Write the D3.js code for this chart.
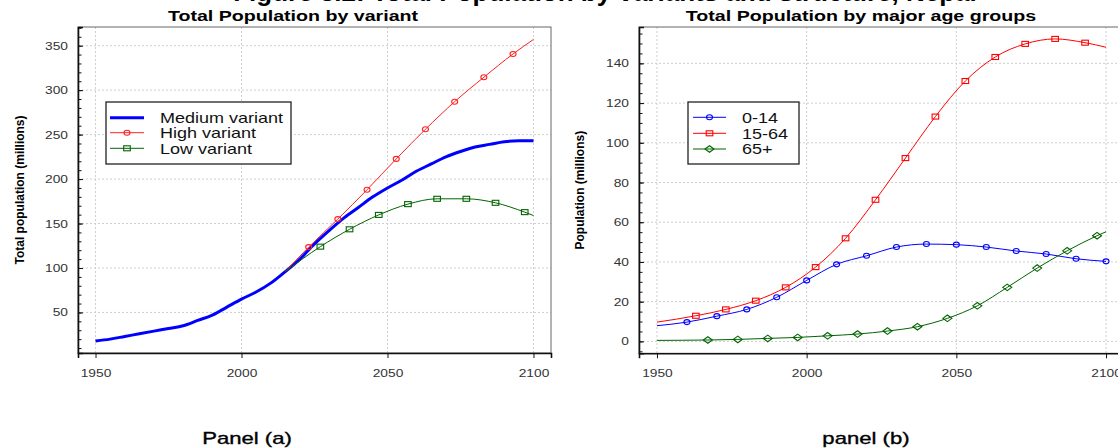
<!DOCTYPE html>
<html>
<head>
<meta charset="utf-8">
<script src="https://cdn.jsdelivr.net/npm/d3@7"></script>
<style>
  body { margin: 0; background: #fff; }
  text { font-family: "Liberation Sans", Arial, sans-serif; }
</style>
</head>
<body>
<script>
// ---- data: panel (a) total population by variant (millions)
const mediumYears = [1950,1955,1960,1965,1970,1975,1980,1985,1990,1995,2000,2005,2010,2015,2020,2025,2030,2035,2040,2045,2050,2055,2060,2065,2070,2075,2080,2085,2090,2095,2100];
const medium = [18,20,23,26,29,32,35,41,47,56,65,73,83,96,110,127,142,156,168,180,190,199,209,217,225,231,236,239,242,243,243];
const highYears = [2015,2023,2033,2043,2053,2063,2073,2083,2093,2100];
const high = [96,123.5,155,188,222.7,256,287,314.5,340.7,357];
const lowYears = [2015,2027,2037,2047,2057,2067,2077,2087,2097,2100];
const low = [96,124,143.5,159.7,171.8,177.8,177.8,173.3,162.8,159];

// ---- data: panel (b) population by major age groups (millions)
const childYears = [1950,1960,1970,1980,1990,2000,2010,2020,2030,2040,2050,2060,2070,2080,2090,2100];
const age0_14 = [7.9,9.7,12.7,16.1,22.2,30.7,38.8,43.1,47.5,49,48.7,47.5,45.5,44,41.6,40.3];
const workYears = [1950,1963,1973,1983,1993,2003,2013,2023,2033,2043,2053,2063,2073,2083,2093,2100];
const age15_64 = [9.7,12.9,16.1,20.5,27.2,37.4,51.9,71.3,92.3,113.2,131.1,143.2,149.8,152.3,150.4,148.1];
const oldYears = [1950,1967,1977,1987,1997,2007,2017,2027,2037,2047,2057,2067,2077,2087,2097,2100];
const age65 = [0.5,0.7,1.0,1.5,2.0,2.8,3.7,5.2,7.4,11.6,17.9,27.2,36.9,45.6,53.2,55.2];

// ---- tick labels
const xTicks = [1950,2000,2050,2100];
const yTicksA = [50,100,150,200,250,300,350];
const yTicksB = [0,20,40,60,80,100,120,140];

const W = 1118, H = 448;
const svg = d3.select("body").append("svg").attr("width", W).attr("height", H);
svg.append("rect").attr("width", W).attr("height", H).attr("fill", "#fff");

// the picture is widened sideways, so widen horizontal text too
function stretch(sel, k) {
  sel.each(function () {
    const w = this.getComputedTextLength();
    d3.select(this).attr("textLength", w * k).attr("lengthAdjust", "spacingAndGlyphs");
  });
}

function ellipse(g, x, y, color) {
  g.append("ellipse").attr("cx", x).attr("cy", y).attr("rx", 3).attr("ry", 2.5)
    .attr("fill", "none").attr("stroke", color).attr("stroke-width", 1.1);
}
function square(g, x, y, color) {
  g.append("rect").attr("x", x - 3.3).attr("y", y - 2.5).attr("width", 6.6).attr("height", 5)
    .attr("fill", "none").attr("stroke", color).attr("stroke-width", 1.1);
}
function diamond(g, x, y, color) {
  g.append("path").attr("d", `M${x - 4.5},${y}L${x},${y - 3.3}L${x + 4.5},${y}L${x},${y + 3.3}Z`)
    .attr("fill", "none").attr("stroke", color).attr("stroke-width", 1.1);
}

function drawPanel(p) {
  const g = svg.append("g");
  const x = p.x, y = p.y;
  const [x0, x1] = x.range(), [y0, y1] = y.range();

  // grid
  g.selectAll(".gx").data(xTicks).enter().append("line")
    .attr("x1", d => x(d)).attr("x2", d => x(d)).attr("y1", y1).attr("y2", y0)
    .attr("stroke", "#cfcfcf").attr("stroke-dasharray", "2,2");
  g.selectAll(".gy").data(p.yTicks).enter().append("line")
    .attr("x1", x0).attr("x2", x1).attr("y1", d => y(d)).attr("y2", d => y(d))
    .attr("stroke", "#cfcfcf").attr("stroke-dasharray", "2,2");

  // box
  g.append("rect").attr("x", x0).attr("y", y1).attr("width", x1 - x0).attr("height", y0 - y1)
    .attr("fill", "none").attr("stroke", "#666").attr("stroke-width", 1);

  // axes
  const xa = g.append("g").attr("transform", `translate(0,${y0})`)
    .call(d3.axisBottom(x).tickValues(xTicks).tickSize(5).tickPadding(11).tickFormat(d3.format("d")));
  const ya = g.append("g").attr("transform", `translate(${x0},0)`)
    .call(d3.axisLeft(y).tickValues(p.yTicks).tickSize(-5).tickPadding(10));
  g.append("g").attr("transform", `translate(${x0},0)`)
    .call(d3.axisLeft(y).tickValues(p.minor).tickSize(-3.5).tickFormat(""))
    .select(".domain").remove();
  [xa, ya].forEach(a => {
    a.select(".domain").attr("stroke", "#111").attr("stroke-width", 1.6);
    a.selectAll("text").attr("fill", "#333").attr("font-size", 11).call(stretch, 1.25);
  });
  g.selectAll(".tick line").attr("stroke", "#111");

  // titles
  g.append("text").attr("x", p.titleX).attr("y", 21).attr("text-anchor", "middle")
    .attr("font-size", 14).attr("font-weight", "bold").text(p.title).call(stretch, 1.4);
  g.append("text").attr("transform", `translate(${p.ylabX},${(y0 + y1) / 2}) rotate(-90)`)
    .attr("text-anchor", "middle").attr("dy", "0.35em")
    .attr("font-size", 12).attr("font-weight", "bold").text(p.ylab);

  // series
  p.series.forEach(s => {
    const pts = s.years.map((yr, i) => [yr, s.values[i]]);
    g.append("path").datum(pts)
      .attr("fill", "none").attr("stroke", s.color).attr("stroke-width", s.width)
      .attr("d", d3.line().x(d => x(d[0])).y(d => y(d[1])).curve(d3.curveMonotoneX));
    if (s.marker) {
      pts.slice(1, s.lastMarker ? pts.length : pts.length - 1)
        .forEach(d => s.marker(g, x(d[0]), y(d[1]), s.color));
    }
  });

  // legend
  const lg = g.append("g");
  lg.append("rect").attr("x", p.legend.x).attr("y", p.legend.y).attr("width", p.legend.w).attr("height", p.legend.h)
    .attr("fill", "#fff").attr("stroke", "#222").attr("stroke-width", 1.3);
  p.series.forEach((s, i) => {
    const ly = p.legend.rows[i];
    lg.append("line").attr("x1", p.legend.lx0).attr("x2", p.legend.lx1).attr("y1", ly).attr("y2", ly)
      .attr("stroke", s.color).attr("stroke-width", s.width);
    if (s.marker) s.marker(lg, (p.legend.lx0 + p.legend.lx1) / 2, ly, s.color);
    lg.append("text").attr("x", p.legend.tx).attr("y", ly).attr("dy", "0.35em")
      .attr("font-size", 15).attr("fill", "#111").text(s.name).call(stretch, 1.2);
  });
}

drawPanel({
  x: d3.scaleLinear().domain([1944, 2106]).range([78, 551]),
  y: d3.scaleLinear().domain([4.4, 371]).range([353, 27]),
  yTicks: yTicksA,
  minor: d3.range(10, 371, 10),
  title: "Total Population by variant", titleX: 293,
  ylab: "Total population (millions)", ylabX: 20,
  series: [
    { name: "Medium variant", years: mediumYears, values: medium, color: "#0000ff", width: 3 },
    { name: "High variant", years: highYears, values: high, color: "#ff2020", width: 1, marker: ellipse },
    { name: "Low variant", years: lowYears, values: low, color: "#006400", width: 1, marker: square }
  ],
  legend: { x: 106, y: 102, w: 185, h: 62, rows: [117.7, 132.7, 148.3], lx0: 110, lx1: 144, tx: 160 }
});

drawPanel({
  x: d3.scaleLinear().domain([1944, 2106]).range([639, 1124]),
  y: d3.scaleLinear().domain([-6, 158.3]).range([353.3, 27]),
  yTicks: yTicksB,
  minor: d3.range(-5, 158, 5),
  title: "Total Population by major age groups", titleX: 861,
  ylab: "Population (millions)", ylabX: 580,
  series: [
    { name: "0-14", years: childYears, values: age0_14, color: "#0000ff", width: 1, marker: ellipse, lastMarker: true },
    { name: "15-64", years: workYears, values: age15_64, color: "#ff0000", width: 1, marker: square },
    { name: "65+", years: oldYears, values: age65, color: "#006400", width: 1, marker: diamond }
  ],
  legend: { x: 688, y: 102, w: 111, h: 62, rows: [117.3, 133.3, 149], lx0: 693, lx1: 726, tx: 742 }
});

// figure caption, cut off at the top edge of the picture (as in the source image)
svg.append("text").attr("x", 605).attr("y", 1).attr("text-anchor", "middle")
  .attr("font-family", "Liberation Serif, serif").attr("font-weight", "bold").attr("font-size", 26)
  .text("Figure 3.2: Total Population by variants and structure, Nepal");

// panel labels
svg.append("text").attr("x", 247).attr("y", 444).attr("text-anchor", "middle")
  .attr("font-family", "DejaVu Sans, sans-serif").attr("font-size", 17)
  .attr("stroke", "#000").attr("stroke-width", 0.35).text("Panel (a)").call(stretch, 1.3);
svg.append("text").attr("x", 866).attr("y", 444).attr("text-anchor", "middle")
  .attr("font-family", "DejaVu Sans, sans-serif").attr("font-size", 17)
  .attr("stroke", "#000").attr("stroke-width", 0.35).text("panel (b)").call(stretch, 1.3);
</script>
</body>
</html>
